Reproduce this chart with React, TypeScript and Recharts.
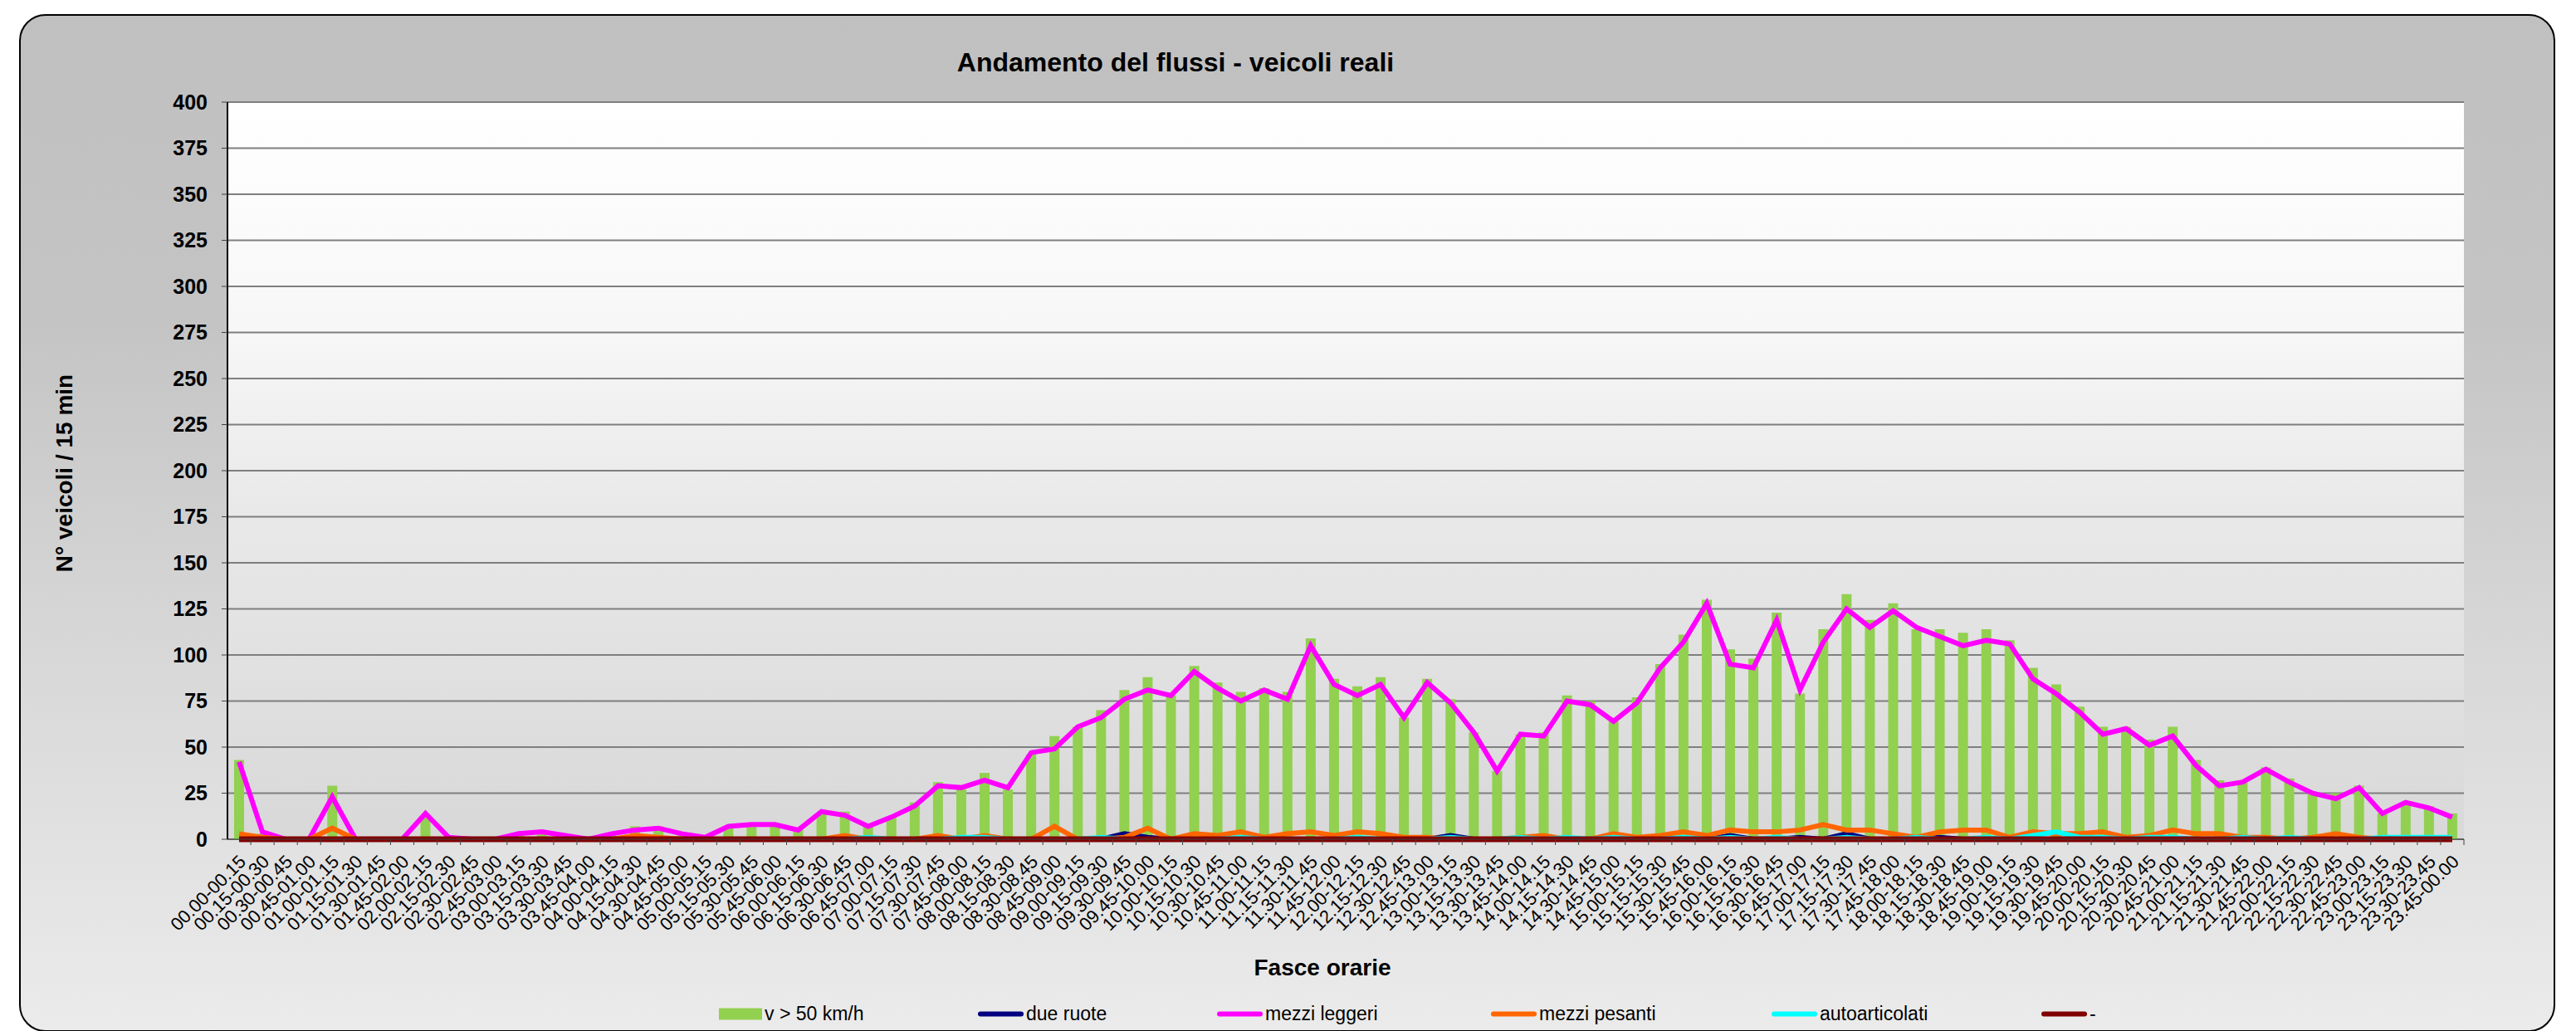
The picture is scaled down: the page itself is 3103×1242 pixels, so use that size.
import React from 'react';
import { ComposedChart, Bar, Line, XAxis, YAxis, CartesianGrid } from 'recharts';

const FASCE: string[] = [
  '00.00-00.15', '00.15-00.30', '00.30-00.45', '00.45-01.00', '01.00-01.15', '01.15-01.30', '01.30-01.45', '01.45-02.00',
  '02.00-02.15', '02.15-02.30', '02.30-02.45', '02.45-03.00', '03.00-03.15', '03.15-03.30', '03.30-03.45', '03.45-04.00',
  '04.00-04.15', '04.15-04.30', '04.30-04.45', '04.45-05.00', '05.00-05.15', '05.15-05.30', '05.30-05.45', '05.45-06.00',
  '06.00-06.15', '06.15-06.30', '06.30-06.45', '06.45-07.00', '07.00-07.15', '07.15-07.30', '07.30-07.45', '07.45-08.00',
  '08.00-08.15', '08.15-08.30', '08.30-08.45', '08.45-09.00', '09.00-09.15', '09.15-09.30', '09.30-09.45', '09.45-10.00',
  '10.00-10.15', '10.15-10.30', '10.30-10.45', '10.45-11.00', '11.00-11.15', '11.15-11.30', '11.30-11.45', '11.45-12.00',
  '12.00-12.15', '12.15-12.30', '12.30-12.45', '12.45-13.00', '13.00-13.15', '13.15-13.30', '13.30-13.45', '13.45-14.00',
  '14.00-14.15', '14.15-14.30', '14.30-14.45', '14.45-15.00', '15.00-15.15', '15.15-15.30', '15.30-15.45', '15.45-16.00',
  '16.00-16.15', '16.15-16.30', '16.30-16.45', '16.45-17.00', '17.00-17.15', '17.15-17.30', '17.30-17.45', '17.45-18.00',
  '18.00-18.15', '18.15-18.30', '18.30-18.45', '18.45-19.00', '19.00-19.15', '19.15-19.30', '19.30-19.45', '19.45-20.00',
  '20.00-20.15', '20.15-20.30', '20.30-20.45', '20.45-21.00', '21.00-21.15', '21.15-21.30', '21.30-21.45', '21.45-22.00',
  '22.00-22.15', '22.15-22.30', '22.30-22.45', '22.45-23.00', '23.00-23.15', '23.15-23.30', '23.30-23.45', '23.45-00.00',
];

// v > 50 km/h (colonne)
const V50: number[] = [
  43, 3, 0, 0, 29, 0, 0, 0, 12, 0, 0, 0,
  2, 3, 1, 0, 2, 7, 7, 2, 1, 7, 9, 8,
  6, 14, 15, 7, 12, 20, 31, 27, 36, 27, 46, 56,
  61, 70, 81, 88, 78, 94, 85, 80, 82, 80, 109, 87,
  83, 88, 66, 87, 76, 58, 37, 57, 58, 78, 75, 64,
  77, 95, 111, 130, 103, 98, 123, 79, 114, 133, 119, 128,
  114, 114, 112, 114, 108, 93, 84, 72, 61, 61, 54, 61,
  43, 32, 31, 39, 33, 25, 25, 29, 14, 19, 18, 14,
];

const DUE_RUOTE: number[] = [
  0, 0, 0, 0, 0, 0, 0, 0, 0, 0, 0, 0,
  0, 0, 0, 0, 0, 0, 0, 0, 0, 0, 0, 0,
  0, 0, 0, 0, 0, 0, 0, 0, 0, 0, 0, 0,
  0, 0, 3, 1, 0, 0, 0, 0, 0, 0, 0, 0,
  0, 0, 0, 0, 2, 0, 0, 0, 0, 0, 0, 0,
  0, 0, 0, 0, 2, 0, 0, 1, 0, 3, 0, 0,
  0, 1, 0, 0, 0, 0, 0, 0, 0, 0, 0, 0,
  0, 0, 0, 0, 0, 0, 0, 0, 0, 0, 0, 0,
];

const LEGGERI: number[] = [
  42, 4, 0, 0, 23, 0, 0, 0, 14, 1, 0, 0,
  3, 4, 2, 0, 3, 5, 6, 3, 1, 7, 8, 8,
  5, 15, 13, 7, 12, 18, 29, 28, 32, 28, 47, 49,
  61, 66, 76, 81, 78, 91, 82, 75, 81, 76, 105, 84,
  78, 84, 66, 85, 74, 58, 37, 57, 56, 75, 73, 64,
  74, 93, 107, 128, 95, 93, 119, 81, 107, 125, 115, 124,
  115, 110, 105, 108, 106, 87, 79, 69, 57, 60, 51, 56,
  40, 29, 31, 38, 31, 25, 22, 28, 14, 20, 17, 12,
];

const PESANTI: number[] = [
  3, 1, 0, 0, 6, 0, 0, 0, 0, 0, 0, 0,
  0, 0, 0, 0, 0, 2, 1, 0, 0, 0, 0, 0,
  0, 0, 2, 0, 0, 0, 2, 0, 2, 0, 0, 7,
  0, 0, 1, 6, 0, 3, 2, 4, 1, 3, 4, 2,
  4, 3, 1, 1, 0, 0, 0, 1, 2, 0, 0, 3,
  1, 2, 4, 2, 5, 4, 4, 5, 8, 5, 5, 3,
  1, 4, 5, 5, 1, 4, 3, 3, 4, 1, 2, 5,
  3, 3, 1, 1, 0, 1, 3, 1, 0, 0, 0, 0,
];

const AUTOARTICOLATI: number[] = [
  0, 0, 0, 0, 0, 0, 0, 0, 0, 0, 0, 0,
  0, 0, 0, 0, 0, 0, 0, 0, 0, 0, 0, 0,
  0, 0, 0, 1, 0, 0, 0, 1, 1, 0, 0, 0,
  0, 1, 0, 0, 0, 0, 0, 1, 0, 0, 0, 0,
  1, 0, 0, 0, 1, 0, 0, 1, 0, 1, 0, 1,
  0, 0, 1, 0, 1, 0, 1, 0, 0, 1, 0, 0,
  1, 0, 0, 1, 0, 2, 4, 1, 1, 0, 1, 1,
  0, 0, 1, 0, 1, 0, 0, 0, 1, 1, 1, 1,
];

// serie "-"
const TRATTINO: number[] = [
  0, 0, 0, 0, 0, 0, 0, 0, 0, 0, 0, 0,
  0, 0, 0, 0, 0, 0, 0, 0, 0, 0, 0, 0,
  0, 0, 0, 0, 0, 0, 0, 0, 0, 0, 0, 0,
  0, 0, 0, 0, 0, 0, 0, 0, 0, 0, 0, 0,
  0, 0, 0, 0, 0, 0, 0, 0, 0, 0, 0, 0,
  0, 0, 0, 0, 0, 0, 0, 0, 0, 0, 0, 0,
  0, 0, 0, 0, 0, 0, 0, 0, 0, 0, 0, 0,
  0, 0, 0, 0, 0, 0, 0, 0, 0, 0, 0, 0,
];

const Y_TICKS: number[] = [0, 25, 50, 75, 100, 125, 150, 175, 200, 225, 250, 275, 300, 325, 350, 375, 400];

const FONT = '"Liberation Sans", Arial, sans-serif';
const W = 3103;
const H = 1242;
const MARGIN = { top: 123, right: 135, bottom: 100, left: 194 };
const Y_AXIS_W = 80;
const X_AXIS_H = 131;
const PLOT_W = W - MARGIN.left - MARGIN.right - Y_AXIS_W;
const BAND = PLOT_W / FASCE.length;

const data = FASCE.map((f, i) => ({
  fascia: f,
  v50: V50[i],
  dueRuote: DUE_RUOTE[i],
  leggeri: LEGGERI[i],
  pesanti: PESANTI[i],
  autoart: AUTOARTICOLATI[i],
  trattino: TRATTINO[i],
}));

const XTick = (props: any) => {
  const { x, y, payload } = props;
  const ax = x + 4;
  const ay = y + 16;
  return (
    <g>
      <line x1={x + BAND / 2} x2={x + BAND / 2} y1={y - 7} y2={y} stroke="#404040" strokeWidth={1} />
      <text
        x={ax}
        y={ay}
        transform={`rotate(-45 ${ax} ${ay})`}
        textAnchor="end"
        dy="0.35em"
        fontSize={22}
        fontFamily={FONT}
        fill="#000"
      >
        {payload.value}
      </text>
    </g>
  );
};

const legendItems = [
  { label: 'v > 50 km/h', color: '#92d050', bar: true, left: 866 },
  { label: 'due ruote', color: '#000080', left: 1178 },
  { label: 'mezzi leggeri', color: '#ff00ff', left: 1466 },
  { label: 'mezzi pesanti', color: '#ff6600', left: 1796 },
  { label: 'autoarticolati', color: '#00ffff', left: 2134 },
  { label: '-', color: '#800000', left: 2459 },
];

export default function App() {
  return (
    <div style={{ position: 'absolute', left: 0, top: 0, width: W, height: H, background: '#fff', fontFamily: FONT, overflow: 'hidden' }}>
      <div
        style={{
          position: 'absolute',
          left: 23,
          top: 17,
          width: 3051,
          height: 1222,
          border: '2px solid #000',
          borderRadius: 32,
          background: 'linear-gradient(to bottom, #c0c0c0 0%, #c4c4c4 30%, #d6d6d6 60%, #ebebeb 100%)',
        }}
      />
      <div style={{ position: 'absolute', left: 0, top: 0 }}>
        <ComposedChart width={W} height={H} data={data} margin={MARGIN} barCategoryGap="57%">
          <defs>
            <linearGradient id="plotBg" x1="0" y1="0" x2="0" y2="1">
              <stop offset="0%" stopColor="#ffffff" />
              <stop offset="31%" stopColor="#f7f7f7" />
              <stop offset="55%" stopColor="#e9e9e9" />
              <stop offset="100%" stopColor="#d8d8d8" />
            </linearGradient>
          </defs>
          <CartesianGrid vertical={false} stroke="#7f7f7f" strokeWidth={2} fill="url(#plotBg)" fillOpacity={1} />
          <XAxis
            dataKey="fascia"
            interval={0}
            height={X_AXIS_H}
            tickLine={false}
            tickSize={7}
            tickMargin={0}
            axisLine={{ stroke: '#404040' }}
            tick={<XTick />}
          />
          <YAxis
            domain={[0, 400]}
            ticks={Y_TICKS}
            interval={0}
            width={Y_AXIS_W}
            tickSize={7}
            tickMargin={17}
            axisLine={{ stroke: '#000', strokeWidth: 2 }}
            tickLine={{ stroke: '#404040' }}
            tick={{ fill: '#000', fontSize: 25, fontWeight: 'bold', fontFamily: FONT }}
          />
          <YAxis yAxisId="r" orientation="right" domain={[0, 400]} width={0} tick={false} tickLine={false} axisLine={{ stroke: '#404040', strokeWidth: 2 }} />
          <Bar dataKey="v50" name="v > 50 km/h" fill="#92d050" barSize={12} isAnimationActive={false} />
          <Line type="linear" dataKey="dueRuote" name="due ruote" stroke="#000080" strokeWidth={6} dot={false} isAnimationActive={false} />
          <Line type="linear" dataKey="leggeri" name="mezzi leggeri" stroke="#ff00ff" strokeWidth={6} dot={false} isAnimationActive={false} />
          <Line type="linear" dataKey="pesanti" name="mezzi pesanti" stroke="#ff6600" strokeWidth={6} dot={false} isAnimationActive={false} />
          <Line type="linear" dataKey="autoart" name="autoarticolati" stroke="#00ffff" strokeWidth={6} dot={false} isAnimationActive={false} />
          <Line type="linear" dataKey="trattino" name="-" stroke="#800000" strokeWidth={7} dot={false} isAnimationActive={false} />
        </ComposedChart>
      </div>

      <div style={{ position: 'absolute', left: 1416, top: 75, transform: 'translate(-50%, -50%)', fontSize: 32, fontWeight: 'bold', whiteSpace: 'nowrap' }}>
        Andamento del flussi - veicoli reali
      </div>
      <div style={{ position: 'absolute', left: 78, top: 570, transform: 'translate(-50%, -50%) rotate(-90deg)', fontSize: 28, fontWeight: 'bold', whiteSpace: 'nowrap' }}>
        N° veicoli / 15 min
      </div>
      <div style={{ position: 'absolute', left: 1593, top: 1166, transform: 'translate(-50%, -50%)', fontSize: 28, fontWeight: 'bold', whiteSpace: 'nowrap' }}>
        Fasce orarie
      </div>

      {legendItems.map((it) => (
        <div key={it.label} style={{ position: 'absolute', left: it.left, top: 1221, transform: 'translateY(-50%)', display: 'flex', alignItems: 'center', fontSize: 23, whiteSpace: 'nowrap' }}>
          {it.bar ? (
            <div style={{ width: 52, height: 14, background: it.color }} />
          ) : (
            <div style={{ width: 55, height: 6, borderRadius: 3, background: it.color }} />
          )}
          <span style={{ marginLeft: 3 }}>{it.label}</span>
        </div>
      ))}
    </div>
  );
}
